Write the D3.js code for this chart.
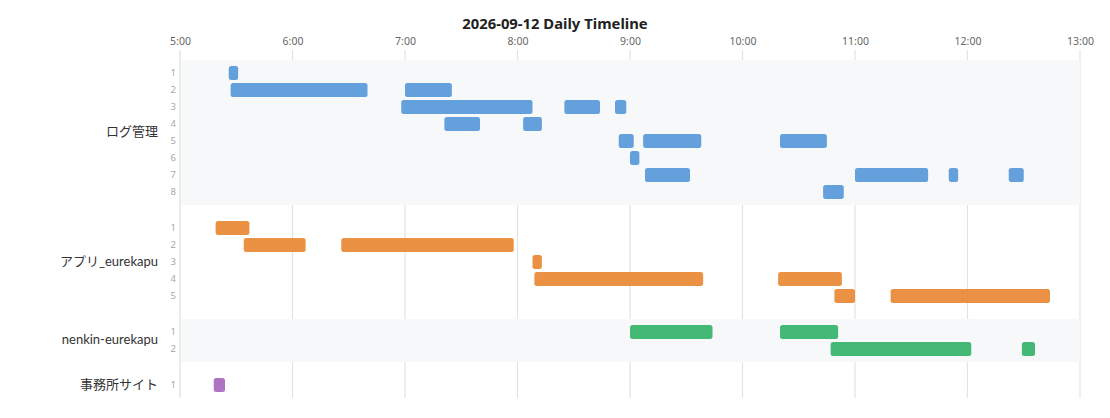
<!DOCTYPE html>
<html>
<head>
<meta charset="utf-8">
<script src="https://cdn.jsdelivr.net/npm/d3@7"></script>
<style>
  html, body { margin: 0; padding: 0; background: #fff; }
  svg { display: block; }
</style>
</head>
<body>
<svg id="chart" width="1110" height="418"></svg>
<script>
// ---- data ----
const title = "2026-09-12 Daily Timeline";
const groups = ["ログ管理", "アプリ_eurekapu", "nenkin-eurekapu", "事務所サイト"];
const laneCounts = [8, 5, 2, 1];
const tickLabels = ["5:00", "6:00", "7:00", "8:00", "9:00", "10:00", "11:00", "12:00", "13:00"];
// [lane, start, end]
const logSessions = [
  [1, "5:26", "5:31"],
  [2, "5:27", "6:40"], [2, "7:00", "7:25"],
  [3, "6:58", "8:08"], [3, "8:25", "8:44"], [3, "8:52", "8:58"],
  [4, "7:21", "7:40"], [4, "8:03", "8:13"],
  [5, "8:54", "9:02"], [5, "9:07", "9:38"], [5, "10:20", "10:45"],
  [6, "9:00", "9:05"],
  [7, "9:08", "9:32"], [7, "11:00", "11:39"], [7, "11:50", "11:55"], [7, "12:22", "12:30"],
  [8, "10:43", "10:54"]
];
const appSessions = [
  [1, "5:19", "5:37"],
  [2, "5:34", "6:07"], [2, "6:26", "7:58"],
  [3, "8:08", "8:13"],
  [4, "8:09", "9:39"], [4, "10:19", "10:53"],
  [5, "10:49", "11:00"], [5, "11:19", "12:44"]
];
const nenkinSessions = [
  [1, "9:00", "9:44"], [1, "10:20", "10:51"],
  [2, "10:47", "12:02"], [2, "12:29", "12:36"]
];
const officeSessions = [
  [1, "5:18", "5:24"]
];
const sessionsByGroup = [logSessions, appSessions, nenkinSessions, officeSessions];

// ---- layout ----
const svg = d3.select("#chart");
const plotLeft = 180, plotRight = 1080, plotTop = 60, axisY = 50, gridBottom = 398;
const laneH = 17, barH = 14;
const groupColors = ["#5396d8", "#e9852f", "#30b166", "#a564bd"];

const parseT = s => { const [h, m] = s.split(":").map(Number); return new Date(2026, 8, 12, h, m); };
const x = d3.scaleTime()
  .domain([parseT(tickLabels[0]), parseT(tickLabels[tickLabels.length - 1])])
  .range([plotLeft, plotRight]);

// group vertical layout
let yCursor = plotTop;
const groupLayout = groups.map((g, i) => {
  const pad = i % 2 === 0 ? 4.5 : 14.5;
  const h = laneCounts[i] * laneH + 2 * pad;
  const o = { name: g, y0: yCursor, y1: yCursor + h, pad, shaded: i % 2 === 0 };
  yCursor += h;
  return o;
});
const laneY = (gi, lane) => groupLayout[gi].y0 + groupLayout[gi].pad + (lane - 0.5) * laneH;

// gridlines
const tickDates = tickLabels.map(parseT);
svg.append("g").selectAll("line").data(tickDates).join("line")
  .attr("x1", d => x(d)).attr("x2", d => x(d))
  .attr("y1", axisY).attr("y2", gridBottom)
  .attr("stroke", "#e3e3e3").attr("stroke-width", 1.2);

// left axis line
svg.append("line")
  .attr("x1", plotLeft).attr("x2", plotLeft).attr("y1", axisY).attr("y2", gridBottom)
  .attr("stroke", "#ebebeb").attr("stroke-width", 2);

// shaded group bands
svg.append("g").selectAll("rect").data(groupLayout.filter(g => g.shaded)).join("rect")
  .attr("x", plotLeft + 1).attr("width", plotRight - plotLeft - 1)
  .attr("y", d => d.y0).attr("height", d => d.y1 - d.y0)
  .attr("fill", "#f7f8fa");

// top axis labels
const axis = d3.axisTop(x).tickValues(tickDates).tickSize(0).tickPadding(0)
  .tickFormat((d, i) => tickLabels[i]);
const axG = svg.append("g").attr("transform", `translate(0,${axisY - 5})`).call(axis);
axG.select(".domain").remove();
axG.selectAll("text")
  .attr("font-family", "'Noto Sans', 'Open Sans', sans-serif")
  .attr("font-size", 10.5).attr("fill", "#666");

// title
svg.append("text")
  .attr("x", 555).attr("y", 29).attr("text-anchor", "middle")
  .attr("font-family", "'Noto Sans', 'Open Sans', sans-serif")
  .attr("font-size", 14.8).attr("font-weight", 700).attr("fill", "#222")
  .text(title);

// group labels
svg.append("g").selectAll("text").data(groupLayout).join("text")
  .attr("x", 158)
  .attr("y", (d, i) => i === groups.length - 1 ? laneY(i, 1) - 1 : (d.y0 + d.y1) / 2 - 1)
  .attr("dy", "0.35em").attr("text-anchor", "end")
  .attr("font-family", "Lato, 'Noto Sans CJK JP', sans-serif")
  .attr("font-size", 13).attr("fill", "#333")
  .text(d => d.name);

// lane numbers
const laneNums = [];
laneCounts.forEach((n, gi) => { for (let l = 1; l <= n; l++) laneNums.push({ gi, l }); });
svg.append("g").selectAll("text").data(laneNums).join("text")
  .attr("x", 176).attr("y", d => laneY(d.gi, d.l)).attr("dy", "0.35em")
  .attr("text-anchor", "end")
  .attr("font-family", "'Noto Sans', sans-serif")
  .attr("font-size", 9.5).attr("fill", "#a8a8a8")
  .text(d => d.l);

// bars
sessionsByGroup.forEach((sessions, gi) => {
  svg.append("g").selectAll("rect").data(sessions).join("rect")
    .attr("x", d => x(parseT(d[1])))
    .attr("width", d => Math.max(1, x(parseT(d[2])) - x(parseT(d[1]))))
    .attr("y", d => laneY(gi, d[0]) - barH / 2)
    .attr("height", barH)
    .attr("rx", 2.5)
    .attr("fill", groupColors[gi])
    .attr("fill-opacity", 0.9);
});
</script>
</body>
</html>
